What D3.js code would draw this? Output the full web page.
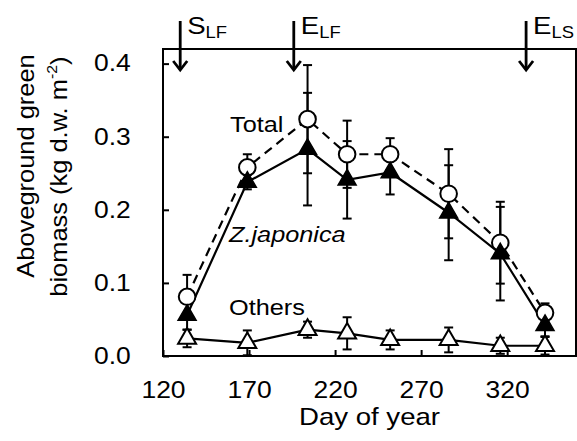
<!DOCTYPE html>
<html>
<head>
<meta charset="utf-8">
<script src="https://cdn.jsdelivr.net/npm/d3@7"></script>
<style>
  body { margin: 0; background: #fff; }
  svg { display: block; font-family: "Liberation Sans", Arial, sans-serif; }
</style>
</head>
<body>
<div id="chart"></div>
<script>
const width = 577;
const height = 441;

// sampling days
const days = [134, 169, 204, 227, 252, 286, 316, 342];

// biomass, kg d.w. m-2
const totalMean = [0.081, 0.258, 0.324, 0.276, 0.276, 0.222, 0.155, 0.059];
const totalSd = [0.030, 0.018, 0.074, 0.046, 0.022, 0.061, 0.056, 0.013];
const zjapMean = [0.056, 0.238, 0.283, 0.241, 0.251, 0.196, 0.140, 0.042];
const zjapSd = [0.020, 0.010, 0.077, 0.053, 0.030, 0.065, 0.064, 0.015];
const othersMean = [0.024, 0.018, 0.036, 0.031, 0.022, 0.022, 0.014, 0.014];
const othersSd = [0.012, 0.017, 0.011, 0.022, 0.013, 0.017, 0.011, 0.012];

// phenology arrows
const arrowDays = [130, 196, 331];
const arrowMain = ["S", "E", "E"];
const arrowSub = ["LF", "LF", "LS"];

const xTicks = [120, 170, 220, 270, 320];
const yTicks = [0, 0.1, 0.2, 0.3, 0.4];

const sx = 1.15; // the original lettering is a bit wide

const margin = { top: 49, right: 1, bottom: 85, left: 163 };

const x = d3.scaleLinear().domain([120, 360]).range([margin.left, width - margin.right]);
const y = d3.scaleLinear().domain([0, 0.42]).range([height - margin.bottom, margin.top]);

const svg = d3.select("#chart").append("svg")
    .attr("width", width)
    .attr("height", height);

const label = (px, py, str, size, anchor, italic) => {
    const t = svg.append("g")
        .attr("transform", `translate(${px},${py}) scale(${sx},1)`)
        .append("text")
        .attr("font-size", size)
        .attr("text-anchor", anchor || "start")
        .text(str);
    if (italic) t.attr("font-style", "italic");
    return t;
};

// frame
svg.append("rect")
    .attr("x", x(120)).attr("y", y(0.42))
    .attr("width", x(360) - x(120)).attr("height", y(0) - y(0.42))
    .attr("fill", "none").attr("stroke", "#000").attr("stroke-width", 2);

// axes, ticks pointing inward
const xAxis = svg.append("g")
    .attr("transform", `translate(0,${y(0)})`)
    .call(d3.axisBottom(x).tickValues(xTicks).tickSizeInner(-6).tickSizeOuter(0).tickPadding(26));
const yAxis = svg.append("g")
    .attr("transform", `translate(${x(120)},0)`)
    .call(d3.axisLeft(y).tickValues(yTicks).tickFormat(d3.format(".1f")).tickSizeInner(-6).tickSizeOuter(0).tickPadding(28));

[xAxis, yAxis].forEach(a => {
    a.select(".domain").remove();
    a.selectAll("line").attr("stroke-width", 2);
    a.selectAll("text")
        .attr("font-size", 23)
        .attr("fill", "#000")
        .attr("font-family", "Liberation Sans, Arial, sans-serif")
        .attr("transform", `scale(${sx},1)`);
});

// axis titles
label((x(120) + x(360)) / 2, 425, "Day of year", 24, "middle");

const yTitle = svg.append("g")
    .attr("transform", `translate(0,166) rotate(-90) scale(1.06,1)`)
    .attr("font-size", 24)
    .attr("text-anchor", "middle");
yTitle.append("text").attr("x", 0).attr("y", 34).text("Aboveground green");
const t2 = yTitle.append("text").attr("x", -10).attr("y", 67);
t2.append("tspan").text("biomass (kg d.w. m");
t2.append("tspan").attr("font-size", 15).attr("dy", -10).text("-2");
t2.append("tspan").attr("dy", 10).text(")");

// arrows
arrowDays.forEach((d, i) => {
    const ax = x(d);
    svg.append("line")
        .attr("x1", ax).attr("x2", ax).attr("y1", 21).attr("y2", 70)
        .attr("stroke", "#000").attr("stroke-width", 2.8);
    svg.append("path")
        .attr("d", d3.line()([[ax - 7, 61], [ax, 70], [ax + 7, 61]]))
        .attr("fill", "none").attr("stroke", "#000").attr("stroke-width", 2.8);
    const t = label(ax + 7, 34, arrowMain[i], 24, "start");
    t.append("tspan").attr("font-size", 16).attr("dy", 4).text(arrowSub[i]);
});

// error bars
const errorBars = (mean, sd) => {
    const g = svg.append("g").attr("stroke", "#000").attr("stroke-width", 2);
    days.forEach((d, i) => {
        const cx = x(d);
        const hi = y(mean[i] + sd[i]);
        const lo = y(Math.max(0, mean[i] - sd[i]));
        g.append("line").attr("x1", cx).attr("x2", cx).attr("y1", hi).attr("y2", lo);
        g.append("line").attr("x1", cx - 4.5).attr("x2", cx + 4.5).attr("y1", hi).attr("y2", hi);
        g.append("line").attr("x1", cx - 4.5).attr("x2", cx + 4.5).attr("y1", lo).attr("y2", lo);
    });
};
errorBars(othersMean, othersSd);
errorBars(totalMean, totalSd);
errorBars(zjapMean, zjapSd);

const line = d3.line().x((d, i) => x(days[i])).y(d => y(d));

svg.append("path").datum(othersMean)
    .attr("d", line).attr("fill", "none").attr("stroke", "#000").attr("stroke-width", 2.2);
svg.append("path").datum(totalMean)
    .attr("d", line).attr("fill", "none").attr("stroke", "#000").attr("stroke-width", 2.2)
    .attr("stroke-dasharray", "9,6");
svg.append("path").datum(zjapMean)
    .attr("d", line).attr("fill", "none").attr("stroke", "#000").attr("stroke-width", 2.2);

// markers
const tri = d3.symbol().type(d3.symbolTriangle).size(140);

svg.selectAll(".oth").data(othersMean).join("path")
    .attr("transform", (d, i) => `translate(${x(days[i])},${y(d)})`)
    .attr("d", tri).attr("fill", "#fff").attr("stroke", "#000").attr("stroke-width", 2);

svg.selectAll(".tot").data(totalMean).join("circle")
    .attr("cx", (d, i) => x(days[i])).attr("cy", d => y(d)).attr("r", 8.3)
    .attr("fill", "#fff").attr("stroke", "#000").attr("stroke-width", 2);

svg.selectAll(".zj").data(zjapMean).join("path")
    .attr("transform", (d, i) => `translate(${x(days[i])},${y(d)})`)
    .attr("d", tri).attr("fill", "#000").attr("stroke", "#000").attr("stroke-width", 1.5);

// series labels
label(230, 132, "Total", 22, "start");
label(229, 242, "Z.japonica", 22, "start", true);
label(229, 315, "Others", 22, "start");
</script>
</body>
</html>
